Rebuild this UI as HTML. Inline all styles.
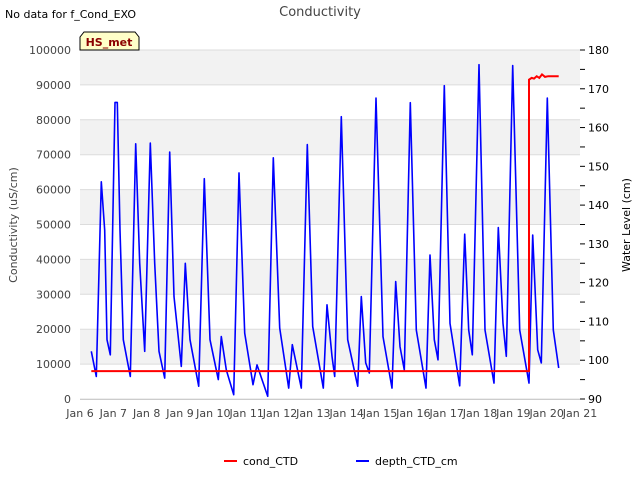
<!DOCTYPE html>
<html><head><meta charset="utf-8"><style>
body{margin:0;background:#fff;font-family:"Liberation Sans","DejaVu Sans",sans-serif}
svg text{font-family:"DejaVu Sans","Liberation Sans",sans-serif}
</style></head><body>
<svg id="c" width="640" height="480" xmlns="http://www.w3.org/2000/svg">
<text x="5" y="18" font-size="11" fill="#000">No data for f_Cond_EXO</text>
<text x="320" y="16" font-size="13" fill="#444" text-anchor="middle">Conductivity</text>
<g id="grid"></g>
<g id="axes"></g>
<g id="series"></g>
<path d="M80,50 L80,37 L84,32 L135,32 L139,37 L139,50 Z" fill="#ffffc8" stroke="#000" stroke-width="1"/>
<text x="109" y="46" font-size="11" font-weight="bold" fill="#8b0000" text-anchor="middle">HS_met</text>
<text transform="translate(17,225) rotate(-90)" font-size="11" fill="#444" text-anchor="middle">Conductivity (uS/cm)</text>
<text transform="translate(630,225) rotate(-90)" font-size="11" fill="#000" text-anchor="middle">Water Level (cm)</text>
<g>
<line x1="224" y1="461" x2="237" y2="461" stroke="#f00" stroke-width="2"/>
<text x="243" y="465" font-size="11" fill="#000">cond_CTD</text>
<line x1="356" y1="461" x2="369" y2="461" stroke="#00f" stroke-width="2"/>
<text x="375" y="465" font-size="11" fill="#000">depth_CTD_cm</text>
</g>
</svg>
<script>
const xTickLabels=["Jan 6","Jan 7","Jan 8","Jan 9","Jan 10","Jan 11","Jan 12","Jan 13","Jan 14","Jan 15","Jan 16","Jan 17","Jan 18","Jan 19","Jan 20","Jan 21"];
const leftTicks=[0,10000,20000,30000,40000,50000,60000,70000,80000,90000,100000];
const rightTicks=[90,100,110,120,130,140,150,160,170,180];
const depthDays=[0.34,0.49,0.64,0.74,0.81,0.91,1.05,1.12,1.20,1.30,1.51,1.67,1.79,1.94,2.11,2.24,2.37,2.54,2.69,2.82,3.04,3.16,3.30,3.56,3.73,3.90,4.15,4.24,4.39,4.61,4.77,4.94,5.19,5.31,5.63,5.80,5.99,6.26,6.37,6.64,6.82,6.98,7.30,7.41,7.56,7.64,7.84,8.03,8.33,8.44,8.57,8.68,8.88,9.09,9.36,9.47,9.60,9.73,9.91,10.09,10.38,10.50,10.63,10.74,10.93,11.10,11.39,11.54,11.66,11.77,11.97,12.15,12.42,12.55,12.69,12.79,12.98,13.19,13.47,13.58,13.73,13.84,14.02,14.20,14.36];
const depthCm=[102.3,95.8,146.0,133.5,105.3,101.4,166.5,166.5,133.5,105.3,95.8,155.8,125.0,102.3,156.0,125.0,102.3,95.4,153.7,116.4,98.4,125.0,105.3,93.3,146.8,105.3,95.0,106.1,97.5,91.1,148.3,107.0,93.7,98.8,90.7,152.2,108.3,92.8,104.0,92.8,155.6,108.7,92.8,114.3,101.0,95.8,162.8,105.3,93.3,116.4,99.3,96.7,167.6,106.1,92.8,120.3,103.5,97.5,166.4,107.8,92.8,127.1,105.3,100.1,170.8,109.5,93.4,132.5,107.8,101.4,176.2,107.8,94.1,134.2,109.5,101.0,176.0,107.8,94.1,132.3,102.7,99.3,167.6,107.8,98.0];
const condDays=[0.34,13.47,13.47,13.55,13.62,13.70,13.78,13.86,13.95,14.05,14.36];
const condVals=[8000,8000,91500,92000,91800,92500,92000,93000,92300,92500,92500];
const X0=80,X1=580,Y0=399,Y1=50;
const xs=d=>X0+d/15*(X1-X0);
const yL=v=>Y0-v/100000*(Y0-Y1);
const yR=v=>Y0-(v-90)/90*(Y0-Y1);
const NS="http://www.w3.org/2000/svg";
function mk(parent,tag,attrs){const e=document.createElementNS(NS,tag);for(const k in attrs)e.setAttribute(k,attrs[k]);parent.appendChild(e);return e;}
const grid=document.getElementById('grid'),axes=document.getElementById('axes'),series=document.getElementById('series');
mk(grid,'rect',{x:X0,y:Y1,width:X1-X0,height:Y0-Y1,fill:'#fff'});
for(let i=0;i<leftTicks.length-1;i++){
 if(i%2===1){const r=mk(grid,'rect',{x:X0,y:yL(leftTicks[i+1]),width:X1-X0,height:yL(leftTicks[i])-yL(leftTicks[i+1]),fill:'#f2f2f2'});
 
 }
}
leftTicks.forEach(v=>{
 const l=mk(grid,'line',{x1:X0,x2:X1,y1:yL(v),y2:yL(v),stroke:'#dcdcdc','stroke-width':1});
 
 
 const t=mk(axes,'text',{x:71,y:yL(v)+4,'font-size':11,fill:'#444','text-anchor':'end'});t.textContent=v;
 
 
});
rightTicks.forEach(v=>{
 const t=mk(axes,'text',{x:588,y:yR(v)+4,'font-size':11,fill:'#000'});t.textContent=v;
 
 
 mk(axes,'line',{x1:X1,x2:X1+5,y1:yR(v),y2:yR(v),stroke:'#000'});
 if(v<180)mk(axes,'line',{x1:X1,x2:X1+5,y1:yR(v+5),y2:yR(v+5),stroke:'#000'});
});
xTickLabels.forEach((s,i)=>{
 const t=mk(axes,'text',{x:xs(i),y:417,'font-size':11,fill:'#444','text-anchor':'middle'});t.textContent=s;
 
 
});
mk(axes,'line',{x1:X0,x2:X1,y1:Y0+0.5,y2:Y0+0.5,stroke:'#ccc'});
const dp=mk(series,'polyline',{points:depthDays.map((d,i)=>xs(d).toFixed(1)+','+yR(depthCm[i]).toFixed(1)).join(' '),fill:'none',stroke:'#0000ff','stroke-width':1.6,'stroke-linejoin':'round'});


const cp=mk(series,'polyline',{points:condDays.map((d,i)=>xs(d).toFixed(1)+','+yL(condVals[i]).toFixed(1)).join(' '),fill:'none',stroke:'#ff0000','stroke-width':2});


</script>
</body></html>
